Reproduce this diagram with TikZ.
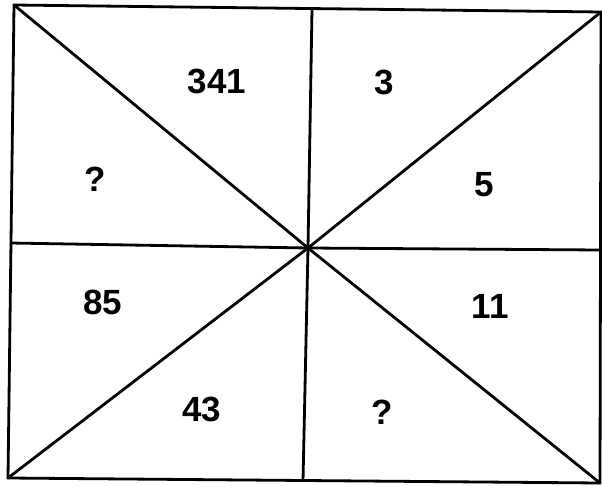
\documentclass[tikz,border=0pt]{standalone}
\usepackage{fontspec}
\setmainfont{Liberation Sans}
\begin{document}
\begin{tikzpicture}[x=1bp,y=-1bp,
  edge/.style={line width=2.8bp,line join=miter},
  num/.style={font=\fontsize{35bp}{40bp}\selectfont\bfseries,inner sep=0pt}]
\useasboundingbox[fill=white] (0,0) rectangle (602,486);
\coordinate (TL) at (14,5);
\coordinate (TR) at (601,12);
\coordinate (BR) at (600,483);
\coordinate (BL) at (8,478);
\coordinate (T) at (312,9);
\coordinate (B) at (303,481);
\coordinate (L) at (10,243);
\coordinate (R) at (600,250);
\coordinate (O) at (308,248);
\draw[edge] (TL) -- (TR) -- (BR) -- (BL) -- cycle;
\draw[edge] (TL) -- (O) -- (BR);
\draw[edge] (TR) -- (O) -- (BL);
\draw[edge] (T) -- (O) -- (B);
\draw[edge] (L) -- (O) -- (R);
\node[num] (n341) at (217,81) {341};
\node[num] (n3) at (384,82) {3};
\node[num] (q1) at (95,179) {?};
\node[num] (n5) at (484,185) {5};
\node[num] (n85) at (103,302) {85};
\node[num] (n11) at (490,306) {11};
\node[num] (n43) at (202,409) {43};
\node[num] (q2) at (382,412) {?};
\end{tikzpicture}
\end{document}
